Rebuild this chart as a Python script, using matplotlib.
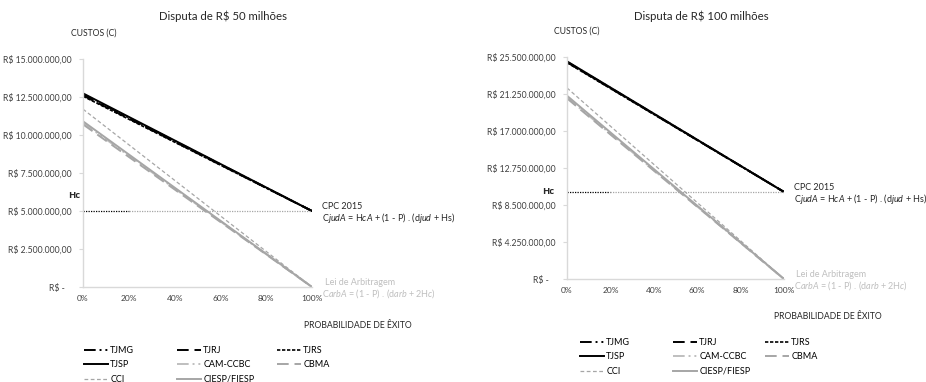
"""Custos esperados: processo judicial (CPC 2015) x arbitragem, por probabilidade de êxito."""

import matplotlib

matplotlib.use("Agg")
import matplotlib.pyplot as plt  # noqa: E402
from matplotlib.ticker import FuncFormatter  # noqa: E402

plt.rcParams["font.family"] = ["Lato", "DejaVu Sans"]
plt.rcParams["mathtext.fontset"] = "custom"
plt.rcParams["mathtext.rm"] = "Lato"
plt.rcParams["mathtext.it"] = "Lato:italic"

# probabilidade de êxito (P) nas duas pontas de cada reta
probability = [0.0, 1.0]

series = ["TJMG", "TJRJ", "TJRS", "TJSP", "CAM-CCBC", "CBMA", "CCI", "CIESP/FIESP"]

# custo em P = 0% e em P = 100%, disputa de R$ 50 milhões
start_50 = [12.68e6, 12.60e6, 12.55e6, 12.74e6, 10.80e6, 10.70e6, 11.70e6, 10.90e6]
end_50 = [5.0e6, 5.0e6, 5.0e6, 5.0e6, 0.0, 0.0, 0.0, 0.0]
hc_50 = 5.0e6
yticks_50 = [0, 2.5e6, 5.0e6, 7.5e6, 10.0e6, 12.5e6, 15.0e6]

# disputa de R$ 100 milhões
start_100 = [24.95e6, 24.90e6, 24.85e6, 25.00e6, 20.85e6, 20.75e6, 21.95e6, 21.05e6]
end_100 = [10.0e6, 10.0e6, 10.0e6, 10.0e6, 0.0, 0.0, 0.0, 0.0]
hc_100 = 10.0e6
yticks_100 = [0, 4.25e6, 8.5e6, 12.75e6, 17.0e6, 21.25e6, 25.5e6]

xticks = [0.0, 0.2, 0.4, 0.6, 0.8, 1.0]

BLACK = "#000000"
GRAY = "#A6A6A6"
LIGHT = "#BFBFBF"
STYLES = {
    "TJMG": dict(color=BLACK, ls=(0, (6, 2, 1, 2, 1, 2)), lw=1.4),
    "TJRJ": dict(color=BLACK, ls=(0, (6, 3)), lw=1.4),
    "TJRS": dict(color=BLACK, ls=(0, (2, 1)), lw=1.2),
    "TJSP": dict(color=BLACK, ls="-", lw=1.4),
    "CAM-CCBC": dict(color=LIGHT, ls=(0, (6, 2, 1, 2, 1, 2)), lw=1.4),
    "CBMA": dict(color=GRAY, ls=(0, (6, 3)), lw=1.4),
    "CCI": dict(color=GRAY, ls=(0, (3, 2)), lw=0.9),
    "CIESP/FIESP": dict(color=GRAY, ls="-", lw=1.4),
}
TEXT = "#262626"


def brl(value, _pos=None):
    """Formato contábil brasileiro: R$ 1.234.567,89 (zero vira 'R$ -')."""
    if value == 0:
        return "R$ -   "
    txt = f"{value:,.2f}".replace(",", "X").replace(".", ",").replace("X", ".")
    return f"R$ {txt}"


def draw_panel(fig, rect, title_x, title, starts, ends, hc, yticks, legend_x, legend_y,
               hc_label_pos):
    ax = fig.add_axes(rect)
    handles = []
    for name, y0, y1 in zip(series, starts, ends):
        (line,) = ax.plot(probability, [y0, y1], label=name, **STYLES[name])
        handles.append(line)
    # linha de Hc: trecho inicial preto, restante cinza
    ax.plot([0.0, 0.2], [hc, hc], color=BLACK, ls=(0, (1, 1)), lw=0.9)
    ax.plot([0.2, 1.0], [hc, hc], color=GRAY, ls=(0, (1, 1)), lw=0.9)

    ax.set_xlim(0, 1)
    ax.set_ylim(0, yticks[-1])
    ax.set_xticks(xticks)
    ax.xaxis.set_major_formatter(FuncFormatter(lambda v, _p: f"{v:.0%}"))
    ax.set_yticks(yticks)
    ax.yaxis.set_major_formatter(FuncFormatter(brl))
    ax.tick_params(axis="y", length=3, color="#D9D9D9", labelsize=6.2, pad=5,
                   labelcolor="#404040")
    ax.tick_params(axis="x", length=0, labelsize=6.0, pad=6, labelcolor="#404040")
    for side in ("top", "right"):
        ax.spines[side].set_visible(False)
    for side in ("left", "bottom"):
        ax.spines[side].set_color("#D9D9D9")
        ax.spines[side].set_linewidth(1.0)

    fig.text(title_x, 0.958, title, ha="center", va="center", fontsize=8.2, color=TEXT)
    ax.text(0.045, 1.115, "CUSTOS (C)", transform=ax.transAxes, ha="center", va="center",
            fontsize=6.2, color=TEXT)
    ax.text(1.2, -0.17, "PROBABILIDADE DE ÊXITO", transform=ax.transAxes,
            ha="center", va="center", fontsize=6.2, color=TEXT)

    tr = ax.get_yaxis_transform()
    ax.text(hc_label_pos[0], hc_label_pos[1], "Hc", transform=tr, ha="right", va="center",
            fontsize=6.8, fontweight="bold", family="Open Sans", color=TEXT)
    ax.text(1.045, hc, "CPC 2015", transform=tr, ha="left", va="bottom", fontsize=6.5,
            color=TEXT)
    ax.text(1.045, hc, r"C$\mathit{judA}$ = H$\mathit{cA}$ + (1 - P) . (d$\mathit{jud}$ + Hs)",
            transform=tr, ha="left", va="top", fontsize=6.5, color=TEXT)
    ax.text(1.055, 0.0, "Lei de Arbitragem", transform=tr, ha="left", va="bottom",
            fontsize=6.5, color=LIGHT)
    ax.text(1.045, 0.0, r"C$\mathit{arbA}$ = (1 - P) . (d$\mathit{arb}$ + 2H$\mathit{c}$)",
            transform=tr, ha="left", va="top", fontsize=6.5, color=LIGHT)

    # legenda em 3 colunas, lida por linha
    columns = [[0, 3, 6], [1, 4, 7], [2, 5]]
    for col, x in zip(columns, legend_x):
        fig.legend([handles[i] for i in col], [series[i] for i in col], ncol=1,
                   loc="upper left", bbox_to_anchor=(x, legend_y), frameon=False,
                   fontsize=6.5, handlelength=2.7, handletextpad=0.2,
                   labelspacing=0.6, borderpad=0, borderaxespad=0)
    return ax


def main():
    fig = plt.figure(figsize=(9.26, 3.82), dpi=100)
    W, H = 926, 382
    draw_panel(fig, [83 / W, (H - 287) / H, 229 / W, 228 / H], 223 / W,
               "Disputa de R$ 50 milhões", start_50, end_50, hc_50, yticks_50,
               [84 / W, 177 / W, 277 / W], 1 - 346 / H, (-0.012, 6.05e6))
    draw_panel(fig, [567 / W, (H - 279) / H, 217 / W, 222 / H], 701 / W,
               "Disputa de R$ 100 milhões", start_100, end_100, hc_100, yticks_100,
               [580 / W, 673 / W, 765 / W], 1 - 338 / H, (-0.06, hc_100))
    fig.savefig("out.png", dpi=100, facecolor="white")
    plt.close(fig)


if __name__ == "__main__":
    main()
